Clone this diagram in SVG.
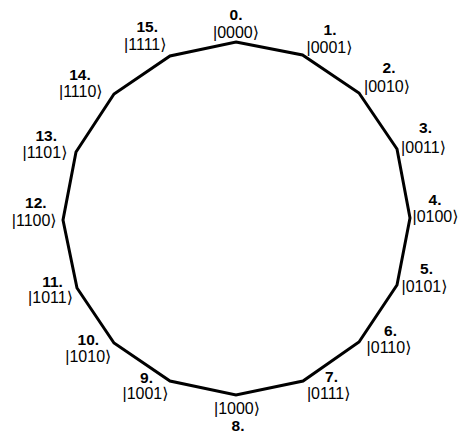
<svg xmlns="http://www.w3.org/2000/svg" width="459" height="435" viewBox="0 0 459 435">
<style>
.n{font-family:"Liberation Sans",Arial,sans-serif;font-size:15.5px;font-weight:bold;text-anchor:middle;fill:#000}
.k{font-family:"Liberation Sans",Arial,"DejaVu Sans",sans-serif;font-size:16px;text-anchor:middle;fill:#000}
.edge{fill:none;stroke:#000;stroke-width:3;stroke-linejoin:miter}
</style>
<rect width="459" height="435" fill="#fff"/>
<g id="connectors">
<polygon class="edge" points="236,42 302.5,55 359,93 397,149 410,218 397,285 359,342 303,381 236,395 170,381 114,343 77,288 63,220 76,152 114,94 170,56"/>
</g>
<g id="n0"><text class="n" x="236" y="19.5">0.</text><text class="k" x="236" y="37.5">|0000⟩</text></g>
<g id="n1"><text class="n" x="330" y="35">1.</text><text class="k" x="329.5" y="53">|0001⟩</text></g>
<g id="n2"><text class="n" x="389" y="73">2.</text><text class="k" x="387" y="91.5">|0010⟩</text></g>
<g id="n3"><text class="n" x="425.5" y="133">3.</text><text class="k" x="423.5" y="152.5">|0011⟩</text></g>
<g id="n4"><text class="n" x="435" y="205">4.</text><text class="k" x="435.5" y="222">|0100⟩</text></g>
<g id="n5"><text class="n" x="426.5" y="274">5.</text><text class="k" x="424.5" y="291.5">|0101⟩</text></g>
<g id="n6"><text class="n" x="390.5" y="336">6.</text><text class="k" x="389" y="353">|0110⟩</text></g>
<g id="n7"><text class="n" x="331.5" y="381.5">7.</text><text class="k" x="328.7" y="399">|0111⟩</text></g>
<g id="n8"><text class="k" x="237" y="414">|1000⟩</text><text class="n" x="238" y="431">8.</text></g>
<g id="n9"><text class="n" x="146.5" y="383">9.</text><text class="k" x="145.5" y="399">|1001⟩</text></g>
<g id="n10"><text class="n" x="88.3" y="345">10.</text><text class="k" x="88.3" y="361.5">|1010⟩</text></g>
<g id="n11"><text class="n" x="52.5" y="287">11.</text><text class="k" x="50.5" y="302.5">|1011⟩</text></g>
<g id="n12"><text class="n" x="35.8" y="208">12.</text><text class="k" x="34.2" y="226">|1100⟩</text></g>
<g id="n13"><text class="n" x="46.2" y="141">13.</text><text class="k" x="45" y="158">|1101⟩</text></g>
<g id="n14"><text class="n" x="80" y="80">14.</text><text class="k" x="80.8" y="96.5">|1110⟩</text></g>
<g id="n15"><text class="n" x="147.2" y="32">15.</text><text class="k" x="145.3" y="50">|1111⟩</text></g>
</svg>
